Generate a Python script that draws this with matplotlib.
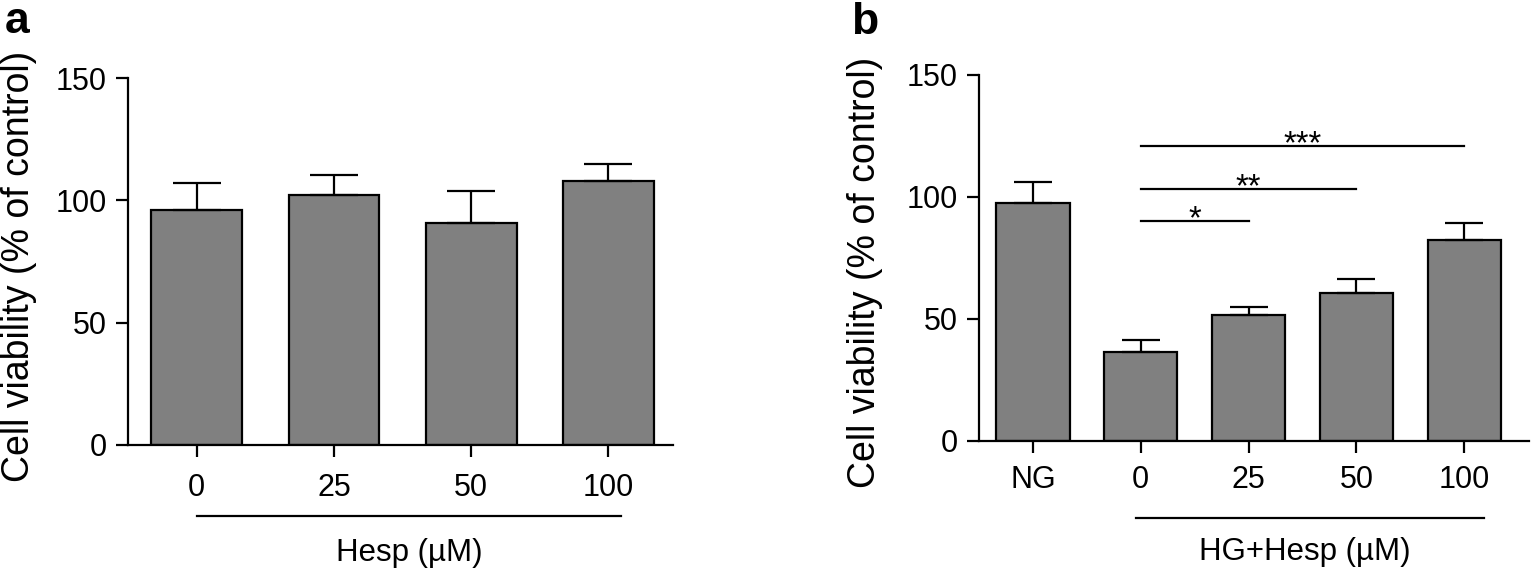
import matplotlib
matplotlib.use("Agg")
import matplotlib.pyplot as plt
import matplotlib.transforms as mtransforms

plt.rcParams["font.family"] = ["Liberation Sans", "DejaVu Sans"]

# Panel a: Hesp alone
a_labels = ["0", "25", "50", "100"]
a_mean = [96.2, 102.2, 90.8, 107.9]
a_err = [10.9, 8.1, 13.2, 6.9]

# Panel b: NG vs HG + Hesp
b_labels = ["NG", "0", "25", "50", "100"]
b_mean = [97.4, 36.6, 51.7, 60.8, 82.5]
b_err = [8.8, 4.6, 3.4, 5.7, 6.7]

# significance brackets: (from bar, to bar, stars, height)
b_sig = [(1, 2, "*", 90.1), (1, 3, "**", 103.2), (1, 4, "***", 120.9)]

bar_color = "#808080"
lw = 1.6
W, H = 1533, 572

fig = plt.figure(figsize=(W / 100, H / 100), dpi=100)


def style_axis(ax, xpad):
    ax.spines["top"].set_visible(False)
    ax.spines["right"].set_visible(False)
    ax.spines["left"].set_linewidth(lw)
    ax.spines["bottom"].set_linewidth(lw)
    ax.spines["left"].set_bounds(0, 150)
    ax.set_ylim(0, 150)
    ax.set_yticks([0, 50, 100, 150])
    ax.tick_params(axis="y", direction="out", length=8.5, width=lw, pad=7, labelsize=22)
    ax.tick_params(axis="x", direction="out", length=8.5, width=lw, pad=xpad, labelsize=22)


def draw_bars(ax, labels, means, errs, width, capsize):
    x = list(range(len(labels)))
    ax.bar(x, means, width=width, color=bar_color, edgecolor="black", linewidth=lw, zorder=2)
    ax.errorbar(x, means, yerr=[[0] * len(errs), errs], fmt="none", ecolor="black",
                elinewidth=lw, capsize=capsize, capthick=lw, zorder=3)
    ax.set_xticks(x)
    ax.set_xticklabels(labels)


# ---- panel a ----
ax1 = fig.add_axes([128 / W, 1 - 445 / H, (673 - 128) / W, (445 - 78) / H])
draw_bars(ax1, a_labels, a_mean, a_err, 0.66, 17)
ax1.set_xlim(-0.5, 3.47)
style_axis(ax1, 12)
tr1 = mtransforms.blended_transform_factory(ax1.transData, ax1.transAxes)
ax1.plot([0, 3.09], [-0.194, -0.194], color="black", lw=lw, transform=tr1, clip_on=False)
ax1.text(1.55, -0.316, "Hesp (µM)", ha="center", va="baseline", fontsize=22.5, transform=tr1)

# ---- panel b ----
ax2 = fig.add_axes([979 / W, 1 - 441 / H, (1529 - 979) / W, (441 - 75) / H])
draw_bars(ax2, b_labels, b_mean, b_err, 0.68, 13.5)
ax2.set_xlim(-0.5, 4.6)
style_axis(ax2, 9)
for i, j, stars, h in b_sig:
    ax2.plot([i, j], [h, h], color="black", lw=lw, zorder=3)
    ax2.text((i + j) / 2, h - 2.8, stars, ha="center", va="baseline", fontsize=23.5)
tr2 = mtransforms.blended_transform_factory(ax2.transData, ax2.transAxes)
ax2.plot([0.96, 4.18], [-0.21, -0.21], color="black", lw=lw, transform=tr2, clip_on=False)
ax2.text(2.52, -0.326, "HG+Hesp (µM)", ha="center", va="baseline", fontsize=22.5, transform=tr2)

# y labels and panel letters
for xc, yc in ((19, 266), (865, 272)):
    fig.text(xc / W, 1 - yc / H, "Cell viability (% of control)", rotation=90,
             ha="center", va="center", fontsize=27)
fig.text(5 / W, 1 - 33 / H, "a", fontsize=32, fontweight="bold", ha="left", va="baseline")
fig.text(851 / W, 1 - 34 / H, "b", fontsize=32, fontweight="bold", ha="left", va="baseline")

fig.savefig("out.png", dpi=100)
